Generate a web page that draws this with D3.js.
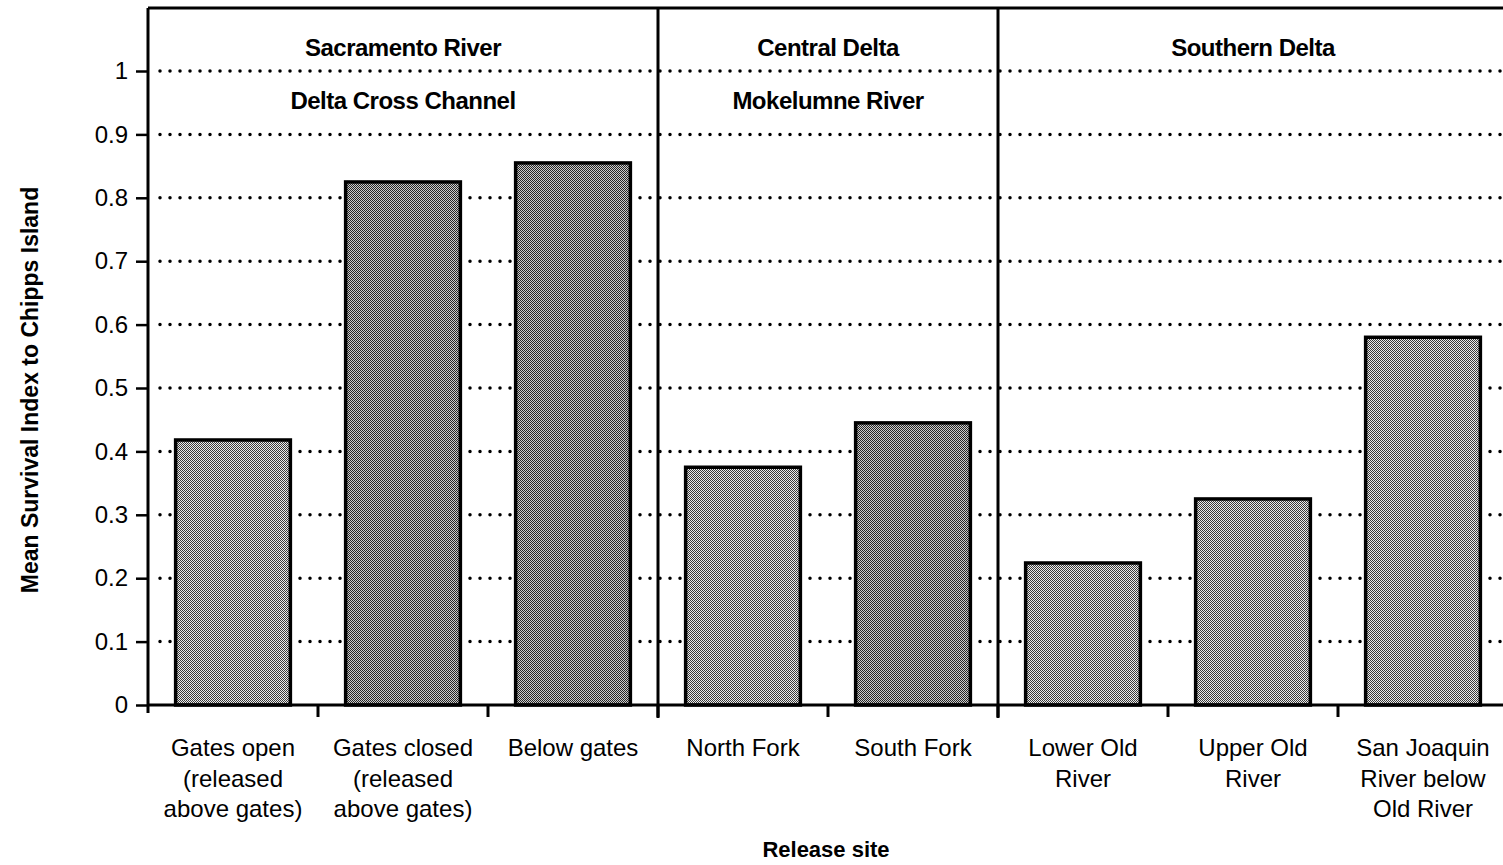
<!DOCTYPE html>
<html>
<head>
<meta charset="utf-8">
<script src="https://cdn.jsdelivr.net/npm/d3@7"></script>
<style>
  html, body { margin: 0; padding: 0; background: #fff; }
  svg { display: block; }
  text { font-family: "Liberation Sans", Arial, sans-serif; fill: #000; }
</style>
</head>
<body>
<svg id="chart" width="1503" height="865"></svg>
<script>
// ---- data ----
const categories = [
  "Gates open (released above gates)",
  "Gates closed (released above gates)",
  "Below gates",
  "North Fork",
  "South Fork",
  "Lower Old River",
  "Upper Old River",
  "San Joaquin River below Old River"
];
const categoryLines = [
  ["Gates open", "(released", "above gates)"],
  ["Gates closed", "(released", "above gates)"],
  ["Below gates"],
  ["North Fork"],
  ["South Fork"],
  ["Lower Old", "River"],
  ["Upper Old", "River"],
  ["San Joaquin", "River below", "Old River"]
];
const survival = [0.418, 0.825, 0.855, 0.375, 0.445, 0.224, 0.325, 0.58];
const shade = ["light", "dark", "dark", "light", "dark", "light", "light", "light"];
const groupNames = ["Sacramento River", "Central Delta", "Southern Delta"];
const groupSubNames = ["Delta Cross Channel", "Mokelumne River", ""];
const groupRanges = [[0, 2], [3, 4], [5, 7]];
const yTicks = [0, 0.1, 0.2, 0.3, 0.4, 0.5, 0.6, 0.7, 0.8, 0.9, 1];
const yTickLabels = ["0", "0.1", "0.2", "0.3", "0.4", "0.5", "0.6", "0.7", "0.8", "0.9", "1"];
const yTitle = "Mean Survival Index to Chipps Island";
const xTitle = "Release site";

(function () {
// ---- layout ----
const svg = d3.select("#chart");
const pLeft = 148, pRight = 1508, pTop = 8, pBottom = 705;

const x = d3.scaleBand().domain(d3.range(categories.length)).range([pLeft, pRight])
  .paddingInner(0.325).paddingOuter(0.1625);
const y = d3.scaleLinear().domain([0, 1]).range([pBottom, 71]);

// patterns (halftone look)
const defs = svg.append("defs");
function checker(id, a, b) {
  const p = defs.append("pattern").attr("id", id).attr("patternUnits", "userSpaceOnUse")
    .attr("width", 2).attr("height", 2);
  p.append("rect").attr("width", 2).attr("height", 2).attr("fill", a);
  p.append("rect").attr("width", 1).attr("height", 1).attr("fill", b);
  p.append("rect").attr("x", 1).attr("y", 1).attr("width", 1).attr("height", 1).attr("fill", b);
}
checker("light", "#ececec", "#3a3a3a");
checker("dark", "#cccccc", "#262626");

// gridlines (dotted)
svg.append("g").selectAll("line").data(yTicks.filter(d => d > 0)).join("line")
  .attr("x1", pLeft + 12).attr("x2", 1503)
  .attr("y1", d => y(d)).attr("y2", d => y(d))
  .attr("stroke", "#000").attr("stroke-width", 3.5)
  .attr("stroke-linecap", "round").attr("stroke-dasharray", "0 10");

// bars
svg.append("g").selectAll("rect").data(survival).join("rect")
  .attr("x", (d, i) => x(i)).attr("width", x.bandwidth())
  .attr("y", d => y(d)).attr("height", d => y(0) - y(d))
  .attr("fill", (d, i) => `url(#${shade[i]})`)
  .attr("stroke", "#000").attr("stroke-width", 3.5);

// frame: top border, group dividers
const step = x.step();
const boundary = i => pLeft + i * step;
svg.append("line").attr("x1", pLeft).attr("x2", 1503).attr("y1", pTop).attr("y2", pTop)
  .attr("stroke", "#000").attr("stroke-width", 3);
svg.append("g").selectAll("line").data(groupRanges.slice(1)).join("line")
  .attr("x1", d => boundary(d[0])).attr("x2", d => boundary(d[0]))
  .attr("y1", pTop).attr("y2", pBottom + 13)
  .attr("stroke", "#000").attr("stroke-width", 3);

// y axis
const yAxis = d3.axisLeft(y).tickValues(yTicks).tickSize(12).tickPadding(8)
  .tickFormat((d, i) => yTickLabels[i]);
const gy = svg.append("g").attr("transform", `translate(${pLeft},0)`).call(yAxis);
gy.select(".domain").remove();
gy.selectAll(".tick line").attr("stroke", "#000").attr("stroke-width", 2.5);
gy.selectAll(".tick text").attr("font-size", 24).attr("font-family", "Liberation Sans, Arial, sans-serif");
svg.append("line").attr("x1", pLeft).attr("x2", pLeft).attr("y1", pTop).attr("y2", pBottom + 8)
  .attr("stroke", "#000").attr("stroke-width", 3);

// x axis
svg.append("line").attr("x1", pLeft).attr("x2", 1503).attr("y1", pBottom).attr("y2", pBottom)
  .attr("stroke", "#000").attr("stroke-width", 3);
svg.append("g").selectAll("line").data(d3.range(1, categories.length)).join("line")
  .attr("x1", d => boundary(d)).attr("x2", d => boundary(d))
  .attr("y1", pBottom).attr("y2", pBottom + 12)
  .attr("stroke", "#000").attr("stroke-width", 3);

// category labels
const lab = svg.append("g").selectAll("text").data(categoryLines).join("text")
  .attr("text-anchor", "middle").attr("font-size", 24)
  .attr("x", (d, i) => x(i) + x.bandwidth() / 2).attr("y", 756);
lab.selectAll("tspan").data(d => d).join("tspan")
  .attr("x", function () { return this.parentNode.getAttribute("x"); })
  .attr("dy", (d, i) => i === 0 ? 0 : 30.5)
  .text(d => d);

// group labels
groupRanges.forEach((r, gi) => {
  const cx = (boundary(r[0]) + boundary(r[1] + 1)) / 2;
  svg.append("text").attr("x", cx).attr("y", 56).attr("text-anchor", "middle")
    .attr("font-size", 24).attr("font-weight", "bold").attr("letter-spacing", -0.5).text(groupNames[gi]);
  if (groupSubNames[gi]) {
    svg.append("text").attr("x", cx).attr("y", 109).attr("text-anchor", "middle")
      .attr("font-size", 24).attr("font-weight", "bold").attr("letter-spacing", -0.5).text(groupSubNames[gi]);
  }
});

// axis titles
svg.append("text").attr("x", (pLeft + pRight) / 2 - 2).attr("y", 857).attr("text-anchor", "middle")
  .attr("font-size", 22).attr("font-weight", "bold").text(xTitle);
svg.append("text").attr("transform", "translate(38,390) rotate(-90)").attr("text-anchor", "middle")
  .attr("font-size", 23).attr("font-weight", "bold").text(yTitle);
})();
</script>
</body>
</html>
